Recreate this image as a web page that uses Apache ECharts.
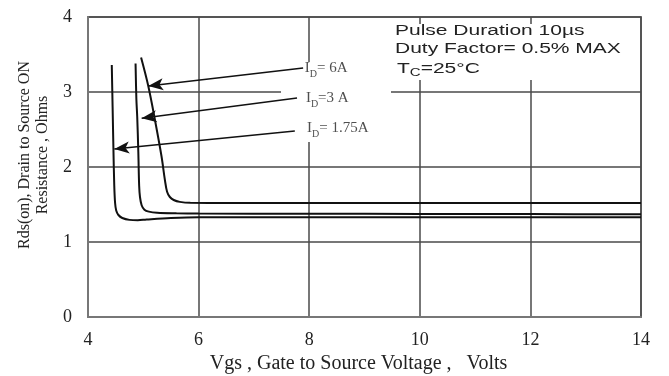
<!DOCTYPE html>
<html>
<head>
<meta charset="utf-8">
<script src="https://cdn.jsdelivr.net/npm/echarts@6/dist/echarts.min.js"></script>
<style>
html,body{margin:0;padding:0;background:#fff;}
#c{width:669px;height:376px;}
</style>
</head>
<body>
<div id="c"></div>
<script>
// ---- data ----
const xRange = [4, 14];
const yRange = [0, 4];
const curveId175 = [[4.43,3.36],[4.445,2.8],[4.46,2.23],[4.475,1.75],[4.49,1.52],[4.51,1.42],[4.55,1.36],[4.62,1.32],[4.75,1.295],[4.9,1.29],[5.06,1.30],[5.5,1.32],[6.0,1.33],[8,1.33],[10,1.33],[12,1.33],[14,1.33]];
const curveId3 = [[4.86,3.38],[4.875,2.9],[4.89,2.67],[4.91,2.2],[4.925,1.75],[4.94,1.6],[4.97,1.49],[5.02,1.43],[5.1,1.405],[5.25,1.39],[5.6,1.383],[6,1.38],[8,1.377],[10,1.375],[12,1.372],[14,1.37]];
const curveId6 = [[4.96,3.46],[5.09,3.08],[5.21,2.63],[5.33,2.14],[5.39,1.83],[5.43,1.67],[5.48,1.6],[5.55,1.56],[5.66,1.535],[5.85,1.522],[6.5,1.52],[8,1.52],[10,1.52],[12,1.52],[14,1.52]];
const curveNames = ['ID=1.75A', 'ID=3A', 'ID=6A'];
const labelTexts = ['{m|I}{s|D}{m|= 6A}', '{m|I}{s|D}{m|=3 A}', '{m|I}{s|D}{m|= 1.75A}'];
const labelAnchors = [[7.92,3.32],[7.94,2.92],[7.96,2.52]];
const arrowTails = [[7.89,3.32],[7.78,2.92],[7.74,2.48]];
const arrowTips = [[5.09,3.08],[4.97,2.65],[4.476,2.24]];
const noteLines = ['Pulse Duration 10\u00b5s', 'Duty Factor= 0.5% MAX', '{a|T}{b|C}{a|=25\u00b0C}'];
const xAxisName = 'Vgs , Gate to Source Voltage ,   Volts';
const yAxisName = 'Rds(on), Drain to Source ON\nResistance , Ohms';

// ---- chart ----
const chart = echarts.init(document.getElementById('c'), null, {renderer: 'canvas'});
const serif = 'Liberation Serif';
const sans = 'Liberation Sans';

function curveSeries(name, data) {
  return {
    name: name, type: 'line', data: data, showSymbol: false, symbol: 'none',
    smooth: 0.35, lineStyle: {color: '#111', width: 2}, z: 3, silent: true
  };
}

const arrowData = arrowTails.map((t, i) => [
  {coord: t, symbol: 'none'},
  {coord: arrowTips[i]}
]);

const option = {
  animation: false,
  backgroundColor: '#fff',
  grid: {left: 88, top: 17, right: 28, bottom: 59, show: true, borderColor: '#777', borderWidth: 2,
         backgroundColor: 'transparent', containLabel: false, outerBoundsMode: 'none'},
  xAxis: {
    type: 'value', min: xRange[0], max: xRange[1], interval: 2,
    name: xAxisName, nameLocation: 'middle', nameGap: 35,
    nameTextStyle: {fontFamily: serif, fontSize: 20, color: '#222', padding: [0, 12, 0, 0]},
    axisLine: {show: true, lineStyle: {color: '#777', width: 2}},
    axisTick: {show: false},
    axisLabel: {fontFamily: serif, fontSize: 18, color: '#222', margin: 14},
    splitLine: {show: true, lineStyle: {color: '#4a4a4a', width: 1.5}}
  },
  yAxis: {
    type: 'value', min: yRange[0], max: yRange[1], interval: 1,
    name: yAxisName, nameLocation: 'middle', nameGap: 33, nameRotate: 90,
    nameTextStyle: {fontFamily: serif, fontSize: 16, lineHeight: 18, color: '#222', align: 'center', padding: [0, 0, 0, 24]},
    axisLine: {show: true, lineStyle: {color: '#777', width: 2}},
    axisTick: {show: false},
    axisLabel: {fontFamily: serif, fontSize: 18, color: '#222', margin: 16},
    splitLine: {show: true, lineStyle: {color: '#4a4a4a', width: 1.5}}
  },
  graphic: [
    {type: 'rect', z: 1, shape: {x: 281, y: 62, width: 110, height: 80}, style: {fill: '#fff'}, silent: true},
    {type: 'rect', z: 1, shape: {x: 391, y: 24, width: 249, height: 56}, style: {fill: '#fff'}, silent: true},
    {type: 'text', z: 5, x: 395, y: 24, scaleX: 1.5, style: {text: noteLines[0], font: '14px ' + sans, fill: '#222'}},
    {type: 'text', z: 5, x: 395, y: 42, scaleX: 1.5, style: {text: noteLines[1], font: '14px ' + sans, fill: '#222'}},
    {type: 'text', z: 5, x: 397, y: 60, scaleX: 1.5, style: {text: noteLines[2], fill: '#222',
      rich: {a: {fontFamily: sans, fontSize: 14, lineHeight: 16, verticalAlign: 'bottom', fill: '#222'},
             b: {fontFamily: sans, fontSize: 10, lineHeight: 16, verticalAlign: 'bottom', fill: '#222', padding: [0,0,-2,0]}}}}
  ],
  series: [
    curveSeries(curveNames[0], curveId175),
    curveSeries(curveNames[1], curveId3),
    curveSeries(curveNames[2], curveId6),
    {
      type: 'line', data: [], silent: true, z: 4,
      markLine: {
        silent: true, animation: false,
        symbol: ['none', 'arrow'], symbolSize: [9, 15],
        lineStyle: {color: '#111', width: 1.5, type: 'solid'},
        label: {show: false},
        data: arrowData
      }
    },
    {
      type: 'scatter', data: labelAnchors, symbolSize: 0, silent: true, z: 5,
      label: {
        show: true, position: 'right', distance: 0,
        formatter: p => labelTexts[p.dataIndex],
        rich: {
          m: {fontFamily: serif, fontSize: 15, lineHeight: 16, verticalAlign: 'bottom', color: '#222'},
          s: {fontFamily: serif, fontSize: 10, lineHeight: 16, verticalAlign: 'bottom', color: '#222', padding: [0,0,-3,0]}
        }
      }
    }
  ]
};
chart.setOption(option);
</script>
</body>
</html>
